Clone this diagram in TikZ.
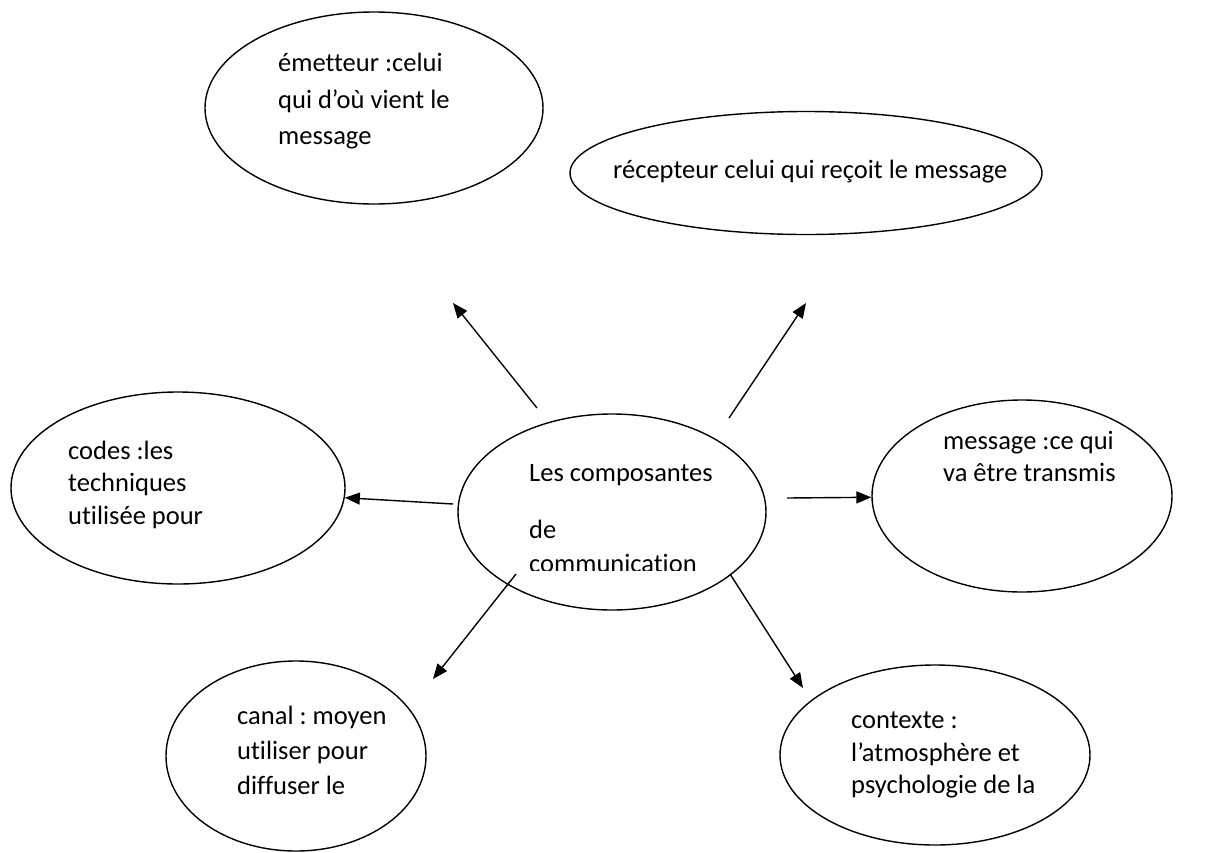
\documentclass[tikz,border=0pt]{standalone}
\usepackage{fontspec}
\setmainfont{Carlito}[Ligatures=NoCommon]
\frenchspacing
\usetikzlibrary{arrows.meta,shapes.geometric}
\begin{document}
\begin{tikzpicture}[x=1pt,y=-1pt,
  bub/.style={draw, ellipse, line width=1.4pt, inner sep=0pt},
  txt/.style={anchor=base west, inner sep=0pt, font=\fontsize{26.5}{32}\selectfont},
  arr/.style={line width=1.4pt, -{Triangle[length=15pt,width=12pt]}}]
\useasboundingbox (0,0) rectangle (1218,852);
% ellipses
\node[bub, minimum width=338pt, minimum height=192pt] (em) at (374,108) {};
\node[bub, minimum width=472pt, minimum height=123pt] (rec) at (806,173) {};
\node[bub, minimum width=334pt, minimum height=192pt] (codes) at (178,488) {};
\node[bub, minimum width=308pt, minimum height=196pt] (comp) at (612,512) {};
\node[bub, minimum width=300pt, minimum height=192pt] (msg) at (1022,496) {};
\node[bub, minimum width=260pt, minimum height=190pt] (canal) at (296,756) {};
\node[bub, minimum width=310pt, minimum height=180pt] (ctx) at (935,755) {};
% texts
\node[txt] (em1) at (278,71) {émetteur :celui};
\node[txt] (em2) at (278,108) {qui d’où vient le};
\node[txt] (em3) at (278,144) {message};
\node[txt] (rec1) at (613,178) {récepteur celui qui reçoit le message};
\node[txt] (co1) at (68,459) {codes :les};
\node[txt] (co2) at (68,491) {techniques};
\node[txt] (co3) at (68,524) {utilisée pour};
\node[txt] (cp1) at (529,481) {Les composantes};
\node[txt] (cp2) at (529,538) {de};
\begin{scope}
\clip (400,540) rectangle (800,570);
\node[txt] (cp3) at (529,572) {communication};
\end{scope}
\node[txt] (ms1) at (943,449) {message :ce qui};
\node[txt] (ms2) at (943,481) {va être transmis};
\node[txt] (ca1) at (237,724) {canal : moyen};
\node[txt] (ca2) at (237,759) {utiliser pour};
\node[txt] (ca3) at (237,794) {diffuser le};
\node[txt] (cx1) at (851,728) {contexte :};
\node[txt] (cx2) at (851,761) {l’atmosphère et};
\node[txt] (cx3) at (851,793) {psychologie de la};
% arrow ends
\coordinate (s1) at (537,408); \coordinate (t1) at (453,303);
\coordinate (s2) at (729,418); \coordinate (t2) at (806,303);
\coordinate (s3) at (453,504);
\coordinate (s4) at (787,498);
\coordinate (s5) at (516,574); \coordinate (t5) at (433,679);
\coordinate (s6) at (730,574); \coordinate (t6) at (803,688);
\draw[arr] (s1) -- (t1);
\draw[arr] (s2) -- (t2);
\draw[arr] (s3) -- (codes);
\draw[arr] (s4) -- (msg);
\draw[arr] (s5) -- (t5);
\draw[arr] (s6) -- (t6);
\end{tikzpicture}
\end{document}
